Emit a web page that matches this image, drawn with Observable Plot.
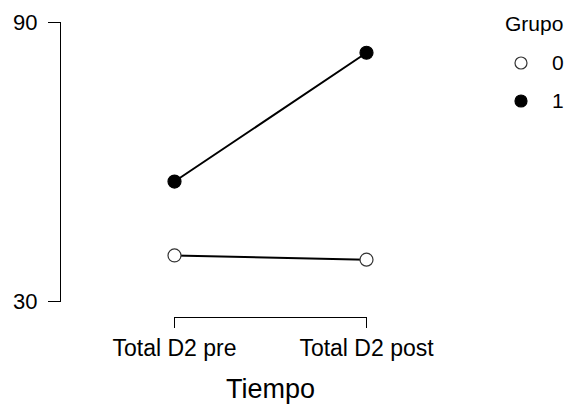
<!DOCTYPE html>
<html>
<head>
<meta charset="utf-8">
<script src="https://cdn.jsdelivr.net/npm/d3@7"></script>
<script src="https://cdn.jsdelivr.net/npm/@observablehq/plot@0.6"></script>
<style>
  body { margin: 0; background: #fff; }
  #wrap { position: relative; width: 567px; height: 405px; font-family: "Liberation Sans", Arial, sans-serif; }
  #legend { position: absolute; left: 0; top: 0; }
</style>
</head>
<body>
<div id="wrap"></div>
<script>
const times = ["Total D2 pre", "Total D2 post"];
const groups = ["0", "1"];
const group0 = [39.9, 39.0];
const group1 = [55.8, 83.5];
const yTicks = [30, 90];
const yDomain = [30, 90];
const xTitle = "Tiempo";
const legendTitle = "Grupo";

const seriesByGroup = { "0": group0, "1": group1 };
const data = groups.flatMap(g => times.map((t, i) => ({ group: g, time: t, value: seriesByGroup[g][i] })));
const fillFor = g => (g === "1" ? "black" : "white");
const strokeFor = g => (g === "1" ? "black" : "#333");

const chart = Plot.plot({
  width: 567,
  height: 405,
  marginTop: 22,
  marginBottom: 104,
  marginLeft: 60,
  marginRight: 87,
  style: { fontFamily: "'Liberation Sans', Arial, sans-serif", color: "black", background: "white" },
  x: { type: "point", domain: times, range: [174, 366], padding: 0 },
  y: { domain: yDomain },
  marks: [
    Plot.frame({ anchor: "left", stroke: "black", strokeWidth: 1 }),
    Plot.axisY({ ticks: yTicks, tickSize: 12, tickPadding: 11, fontSize: 22, label: null, stroke: "black", strokeWidth: 1 }),
    Plot.link([0], { x1: () => times[0], x2: () => times[times.length - 1], y1: () => yDomain[0], y2: () => yDomain[0], dy: 16, stroke: "black", strokeWidth: 1 }),
    Plot.axisX({ tickSize: 11, tickPadding: 11, dy: 16, fontSize: 23, label: null, stroke: "black", strokeWidth: 1 }),
    Plot.text([xTitle], { frameAnchor: "bottom", dy: 88, lineAnchor: "middle", fontSize: 27, fill: "black" }),
    Plot.line(data, { x: "time", y: "value", z: "group", stroke: "black", strokeWidth: 2 }),
    Plot.dot(data, { x: "time", y: "value", r: 6.5, fill: d => fillFor(d.group), stroke: d => strokeFor(d.group), strokeWidth: 1.2 })
  ]
});

const wrap = document.getElementById("wrap");
wrap.appendChild(chart);

// Legend
const leg = d3.create("svg").attr("id", "legend").attr("width", 567).attr("height", 130)
  .style("font-family", "'Liberation Sans', Arial, sans-serif");
leg.append("text").attr("x", 505).attr("y", 31).attr("font-size", 21).attr("fill", "black").text(legendTitle);
groups.forEach((g, i) => {
  const cy = 63 + i * 38;
  leg.append("circle").attr("cx", 521).attr("cy", cy).attr("r", 6)
    .attr("fill", fillFor(g)).attr("stroke", strokeFor(g)).attr("stroke-width", 1.2);
  leg.append("text").attr("x", 552).attr("y", cy).attr("dy", "0.35em").attr("font-size", 21).attr("fill", "black").text(g);
});
wrap.appendChild(leg.node());
</script>
</body>
</html>
